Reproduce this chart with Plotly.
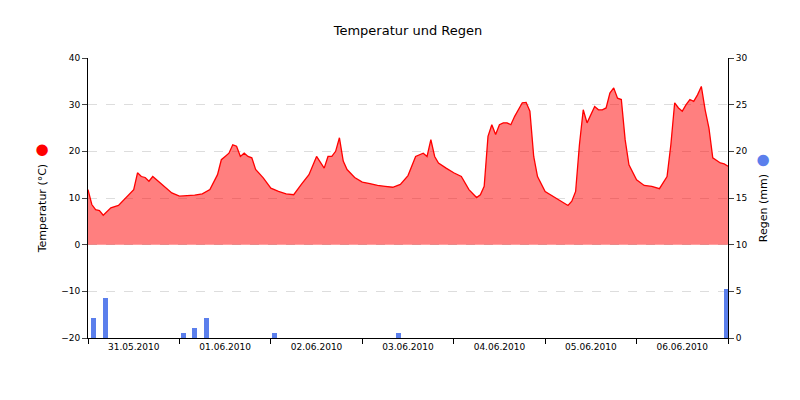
import pandas as pd
import plotly.graph_objects as go

# hours since 31.05.2010 00:00
temp_hours = [0, 1, 2, 3, 4, 6, 8, 10, 12, 13, 14, 15, 16, 17, 18, 20, 22, 24, 26, 28, 30, 32, 34, 35, 36, 37,
              38, 39, 40, 41, 42, 43, 44, 46, 48, 50, 52, 54, 56, 58, 60, 61, 62, 63, 64, 65, 66, 67, 68, 70,
              72, 74, 76, 78, 80, 82, 83, 84, 86, 88, 89, 90, 91, 92, 94, 96, 98, 100, 102, 103, 104, 105,
              106, 107, 108, 109, 110, 111, 112, 113, 114, 115, 116, 117, 118, 120, 122, 124, 126, 127, 128,
              129, 130, 131, 132, 133, 134, 135, 136, 137, 138, 139, 140, 141, 142, 144, 146, 148, 150, 152,
              153, 154, 155, 156, 157, 158, 159, 160, 161, 162, 163, 164, 166, 167, 168]
temp_values = [11.8, 8.6, 7.5, 7.3, 6.3, 7.9, 8.4, 10.0, 11.8, 15.4, 14.6, 14.4, 13.6, 14.6, 13.9, 12.5, 11.1,
               10.4, 10.5, 10.6, 10.9, 11.8, 15.0, 18.2, 18.9, 19.6, 21.4, 21.1, 18.9, 19.6, 18.9, 18.6, 16.1,
               14.3, 12.1, 11.4, 10.9, 10.7, 12.9, 15.0, 18.9, 17.5, 16.4, 18.9, 18.9, 20.0, 22.9, 17.9, 16.1,
               14.4, 13.4, 13.1, 12.7, 12.5, 12.3, 12.9, 13.9, 14.8, 18.9, 19.6, 18.9, 22.5, 18.9, 17.5, 16.4,
               15.4, 14.6, 11.8, 10.1, 10.7, 12.5, 23.2, 25.7, 23.6, 25.7, 26.1, 26.1, 25.7, 27.5, 28.9, 30.4,
               30.5, 28.6, 18.9, 14.6, 11.4, 10.4, 9.3, 8.4, 9.3, 11.4, 21.4, 28.9, 26.1, 27.9, 29.6, 28.9,
               28.9, 29.3, 32.5, 33.6, 31.4, 31.1, 22.5, 17.1, 13.9, 12.7, 12.5, 12.0, 14.6, 21.4, 30.4, 29.3,
               28.6, 30.0, 31.1, 30.7, 32.1, 33.9, 28.9, 25.0, 18.6, 17.5, 17.3, 16.8]

rain_hours = [1.5, 4.5, 25, 28, 31, 49, 81.5, 167.5]
rain_values = [2.1, 4.3, 0.5, 1.1, 2.1, 0.5, 0.5, 5.3]

day_labels = ["31.05.2010", "01.06.2010", "02.06.2010", "03.06.2010",
              "04.06.2010", "05.06.2010", "06.06.2010"]

start = pd.Timestamp("2010-05-31 00:00")
t_temp = start + pd.to_timedelta(temp_hours, unit="h")
t_rain = start + pd.to_timedelta(rain_hours, unit="h")
noon = [start + pd.Timedelta(days=i, hours=12) for i in range(len(day_labels))]

fig = go.Figure()
fig.add_trace(go.Scatter(x=t_temp, y=temp_values, mode="lines", fill="tozeroy",
                         line=dict(color="red", width=1.3), fillcolor="rgba(255,0,0,0.5)",
                         name="Temperatur"))
fig.add_trace(go.Bar(x=t_rain, y=rain_values, yaxis="y2", width=3600000 * 1.3,
                     marker=dict(color="#5b7fec", line=dict(width=0)), name="Regen"))

fig.update_layout(
    width=800, height=400, showlegend=False,
    paper_bgcolor="white", plot_bgcolor="white",
    font=dict(family="DejaVu Sans", size=9, color="black"),
    title=dict(text="Temperatur und Regen", x=0.5, y=0.955, font=dict(size=13)),
    margin=dict(l=80, r=80, t=50, b=70, autoexpand=False),
    bargap=0,
    xaxis=dict(range=[start, start + pd.Timedelta(days=7)], tickvals=noon, ticktext=day_labels,
               ticks="", showgrid=False, showline=True, linecolor="black", automargin=False,
               minor=dict(ticks="outside", ticklen=5, dtick=86400000, tick0=start, tickcolor="black",
                          showgrid=False)),
    yaxis=dict(range=[-20, 40], dtick=10, showline=True, linecolor="black", ticks="outside",
               ticklen=5, gridcolor="#dddddd", griddash="dash", zeroline=False, automargin=False,
               title=dict(text="Temperatur (°C)  <span style='color:red;font-size:15px'>●</span>",
                          standoff=12)),
    yaxis2=dict(range=[0, 30], dtick=5, overlaying="y", side="right", showline=True,
                linecolor="black", ticks="outside", ticklen=5, showgrid=False, zeroline=False,
                automargin=False,
                title=dict(text="Regen (mm)  <span style='color:#5b7fec;font-size:15px'>●</span>",
                           standoff=12)),
)

fig.write_html("out.html")
